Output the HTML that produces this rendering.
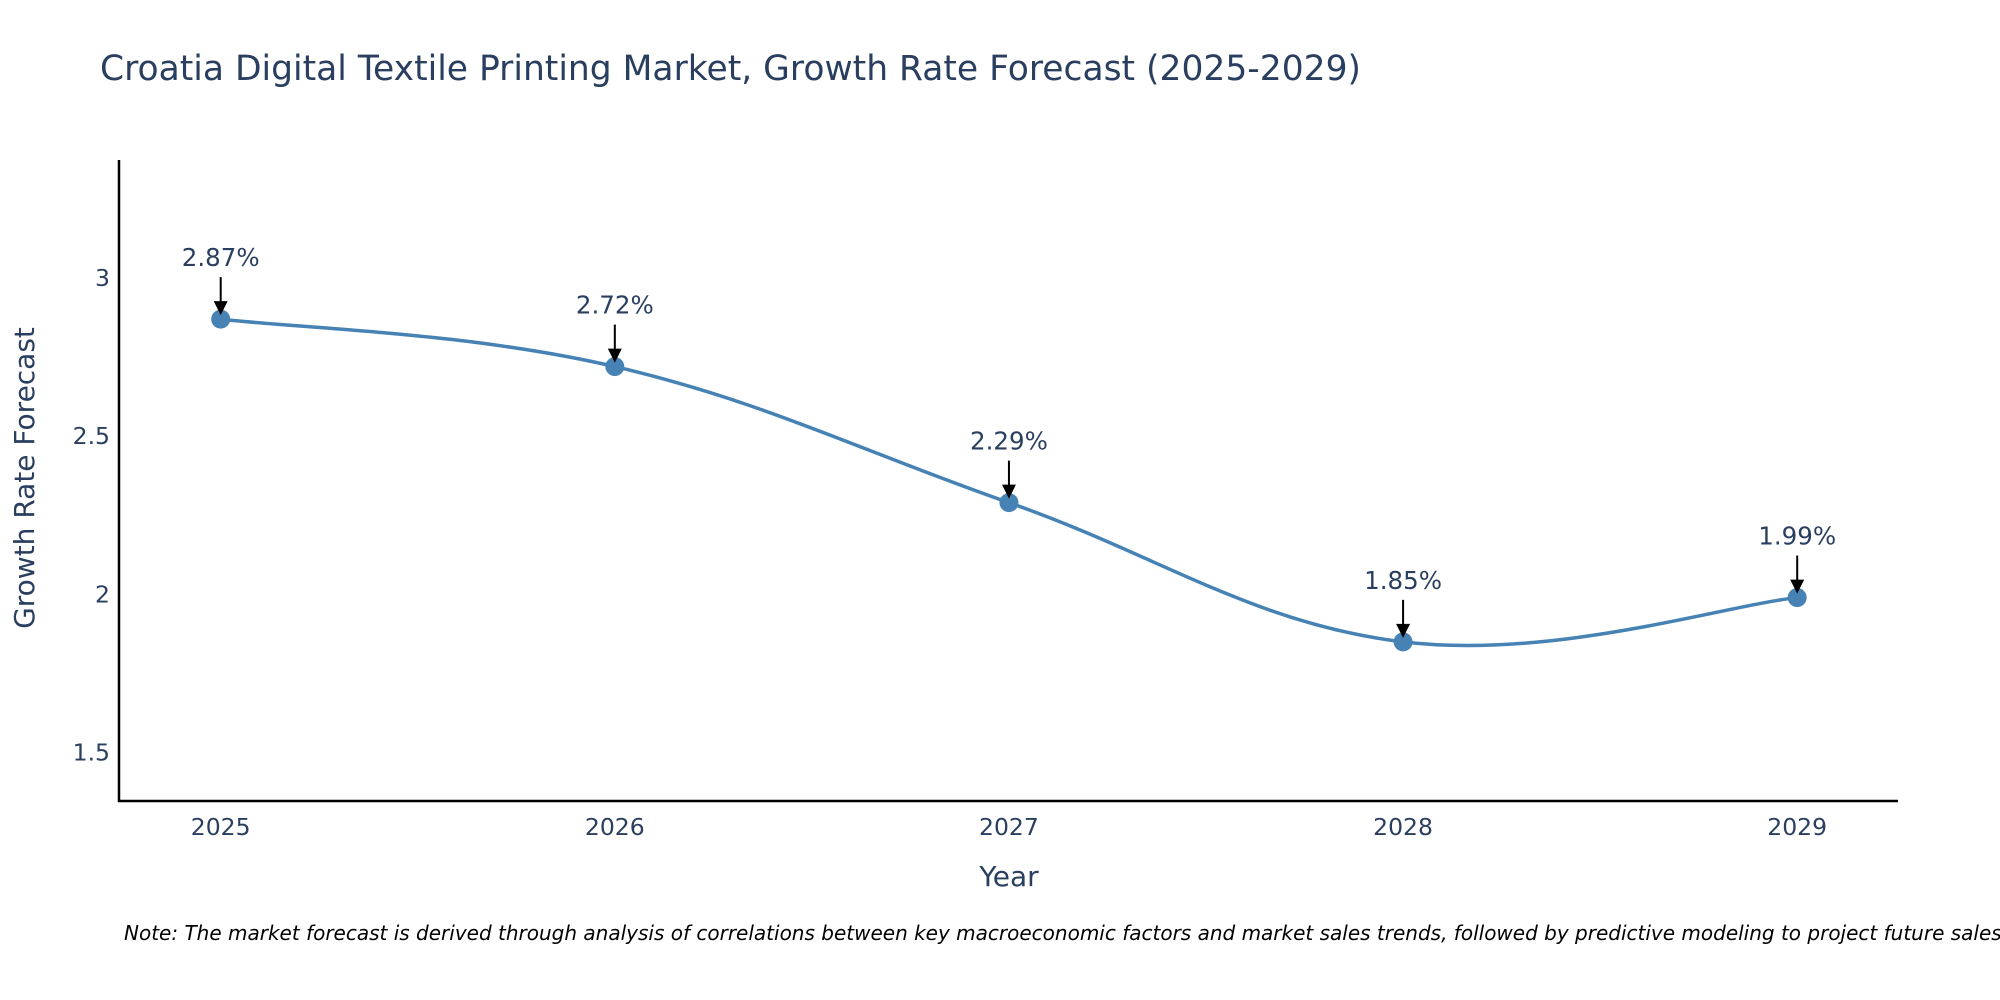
<!DOCTYPE html>
<html><head><meta charset="utf-8"><style>
body{margin:0;background:#fff;}
svg{display:block;font-family:"DejaVu Sans","Liberation Sans",sans-serif;}
</style></head><body>
<svg id="chart" width="2000" height="1000">
<text x="100" y="80" font-size="34.5" fill="#2a3f5f">Croatia Digital Textile Printing Market, Growth Rate Forecast (2025-2029)</text>
<g id="yticks"></g>
<g id="xticks"></g>
<line x1="119" y1="160" x2="119" y2="802" stroke="#000" stroke-width="2.5"/>
<line x1="118" y1="801" x2="1898" y2="801" stroke="#000" stroke-width="2.5"/>
<path id="line" fill="none" stroke="#4682b4" stroke-width="3.5"/>
<g id="marks"></g>
<text x="1009" y="886" font-size="28" fill="#2a3f5f" text-anchor="middle">Year</text>
<text transform="translate(34,478) rotate(-90)" font-size="28" fill="#2a3f5f" text-anchor="middle">Growth Rate Forecast</text>
<text x="124" y="940" font-size="20" font-style="italic" fill="#000">Note: The market forecast is derived through analysis of correlations between key macroeconomic factors and market sales trends, followed by predictive modeling to project future sales.</text>
</svg>
<script>
const years=["2025","2026","2027","2028","2029"];
const values=[2.87,2.72,2.29,1.85,1.99];
const yTicks=[1.5,2,2.5,3];
const yTickLabels=["1.5","2","2.5","3"];
const NS="http://www.w3.org/2000/svg";
function xs(i){return 220.7+i*(1797.2-220.7)/4;}
function ys(v){return 752.6-(v-1.5)*(752.6-278)/1.5;}
function mk(t,a,p){const e=document.createElementNS(NS,t);for(const k in a)e.setAttribute(k,a[k]);p.appendChild(e);return e;}
const yt=document.getElementById('yticks'),xt=document.getElementById('xticks'),mg=document.getElementById('marks');
yTicks.forEach((v,i)=>{const t=mk('text',{x:110,y:ys(v)+8,'font-size':23.5,fill:'#2a3f5f','text-anchor':'end'},yt);t.textContent=yTickLabels[i];

});
years.forEach((y,i)=>{const t=mk('text',{x:xs(i),y:835,'font-size':23.5,fill:'#2a3f5f','text-anchor':'middle'},xt);t.textContent=y;

});
const P=values.map((v,i)=>[xs(i),ys(v)]);
let d="M"+P[0][0]+","+P[0][1];const k=0.19;
for(let i=0;i<P.length-1;i++){const p0=P[i-1]||P[i],p1=P[i],p2=P[i+1],p3=P[i+2]||P[i+1];
d+=" C"+(p1[0]+(p2[0]-p0[0])*k)+","+(p1[1]+(p2[1]-p0[1])*k)+" "+(p2[0]-(p3[0]-p1[0])*k)+","+(p2[1]-(p3[1]-p1[1])*k)+" "+p2[0]+","+p2[1];}
document.getElementById('line').setAttribute('d',d);
values.forEach((v,i)=>{const x=xs(i),y=ys(v);
const c=mk('circle',{cx:x,cy:y,r:9.5,fill:'#4682b4'},mg);


const l=mk('line',{x1:x,y1:y-42,x2:x,y2:y-16,stroke:'#000','stroke-width':2},mg);


const a=mk('path',{d:`M${x-7},${y-18} L${x+7},${y-18} L${x},${y-4} Z`,fill:'#000'},mg);


const t=mk('text',{x:x,y:y-53,'font-size':24.5,fill:'#2a3f5f','text-anchor':'middle'},mg);t.textContent=v.toFixed(2)+"%";

});
</script>
</body></html>
